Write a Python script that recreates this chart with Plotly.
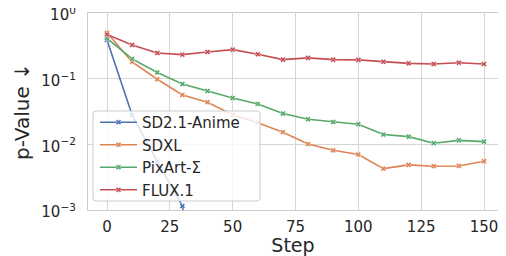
import plotly.graph_objects as go

steps = [0, 10, 20, 30, 40, 50, 60, 70, 80, 90, 100, 110, 120, 130, 140, 150]

sd21_anime = [0.388, 0.028, 0.0055, 0.00115, 0.00001, 0.00001, 0.00001, 0.00001,
              0.00001, 0.00001, 0.00001, 0.00001, 0.00001, 0.00001, 0.00001, 0.00001]
sdxl = [0.50, 0.18, 0.098, 0.0565, 0.0437, 0.0283, 0.0214, 0.0153,
        0.0101, 0.0081, 0.0070, 0.00427, 0.00486, 0.00464, 0.00469, 0.00553]
pixart = [0.41, 0.20, 0.124, 0.083, 0.065, 0.0508, 0.0412, 0.0294,
          0.0241, 0.0219, 0.0202, 0.0141, 0.0131, 0.0104, 0.0115, 0.0110]
flux = [0.47, 0.326, 0.246, 0.232, 0.255, 0.277, 0.235, 0.195,
        0.207, 0.195, 0.193, 0.181, 0.171, 0.167, 0.175, 0.167]

series_names = ["SD2.1-Anime", "SDXL", "PixArt-Σ", "FLUX.1"]
series_values = [sd21_anime, sdxl, pixart, flux]
colors = ["#4C72B0", "#DD8452", "#55A868", "#C44E52"]

x_ticks = [0, 25, 50, 75, 100, 125, 150]
y_tickvals = [1, 0.1, 0.01, 0.001]
y_ticktext = ["10<sup>0</sup>", "10<sup>−1</sup>", "10<sup>−2</sup>", "10<sup>−3</sup>"]

# ---- layout geometry (figure pixels; the page adds an 8px body margin) ----
FIG_W, FIG_H = 490, 248
ML, MR, MT, MB = 80, 0, 5, 46
PW, PH = FIG_W - ML - MR, FIG_H - MT - MB
X0_PX = 19.0          # pixels from plot left edge to step 0
PX_PER_STEP = 2.5133  # horizontal scale
X_RANGE = [-X0_PX / PX_PER_STEP, (PW - X0_PX) / PX_PER_STEP]


def px_to_paper(px, py):
    return (px - ML) / PW, (MT + PH - py) / PH


def rounded_rect(x0, y0, x1, y1, r):
    def P(px, py):
        a, b = px_to_paper(px, py)
        return f"{a:.5f},{b:.5f}"
    return (f"M {P(x0 + r, y0)} L {P(x1 - r, y0)} Q {P(x1, y0)} {P(x1, y0 + r)} "
            f"L {P(x1, y1 - r)} Q {P(x1, y1)} {P(x1 - r, y1)} "
            f"L {P(x0 + r, y1)} Q {P(x0, y1)} {P(x0, y1 - r)} "
            f"L {P(x0, y0 + r)} Q {P(x0, y0)} {P(x0 + r, y0)} Z")


fig = go.Figure()
for name, vals, col in zip(series_names, series_values, colors):
    fig.add_trace(go.Scatter(
        x=steps, y=vals, name=name, mode="lines+markers",
        line=dict(color=col, width=1.6),
        marker=dict(symbol="x", size=5, color=col, line=dict(width=0.5, color="white")),
        cliponaxis=True,
    ))

# legend frame (semi-transparent, drawn above traces, below legend text)
fig.add_shape(type="path", xref="paper", yref="paper", layer="above",
              path=rounded_rect(85, 103, 252, 193, 3),
              fillcolor="rgba(255,255,255,0.8)", line=dict(color="#cccccc", width=1))

font_family = "DejaVu Sans"
lx, ly = px_to_paper(87, 98)
fig.update_layout(
    width=FIG_W, height=FIG_H,
    margin=dict(l=ML, r=MR, t=MT, b=MB, autoexpand=False),
    paper_bgcolor="white", plot_bgcolor="white",
    font=dict(family=font_family, color="#262626", size=14),
    showlegend=True,
    legend=dict(
        x=lx, y=ly, xanchor="left", yanchor="top",
        bgcolor="rgba(0,0,0,0)", borderwidth=0,
        font=dict(size=15, family=font_family, color="#262626"),
        tracegroupgap=0, itemwidth=37,
    ),
    xaxis=dict(
        range=X_RANGE, tickvals=x_ticks, ticktext=[str(v) for v in x_ticks],
        showgrid=True, gridcolor="#d5d5d5", gridwidth=1,
        showline=True, linecolor="#cccccc", linewidth=1.2, mirror=True,
        zeroline=False, ticks="", ticklabelstandoff=3, automargin=False,
        ticklabeloverflow="allow",
        tickfont=dict(size=15, family=font_family, color="#262626"),
        title=dict(text="Step", font=dict(size=19, family=font_family, color="#262626"), standoff=4),
    ),
    yaxis=dict(
        type="log", range=[-3, 0], tickvals=y_tickvals, ticktext=y_ticktext,
        showgrid=True, gridcolor="#d5d5d5", gridwidth=1,
        showline=True, linecolor="#cccccc", linewidth=1.2, mirror=False,
        zeroline=False, ticks="", ticklabelstandoff=8, ticklabelshift=2, automargin=False,
        ticklabeloverflow="allow",
        tickfont=dict(size=15, family=font_family, color="#262626"),
        title=dict(text="p-Value ↓", font=dict(size=20, family=font_family, color="#262626"), standoff=6),
    ),
)

fig.write_html("out.html")
